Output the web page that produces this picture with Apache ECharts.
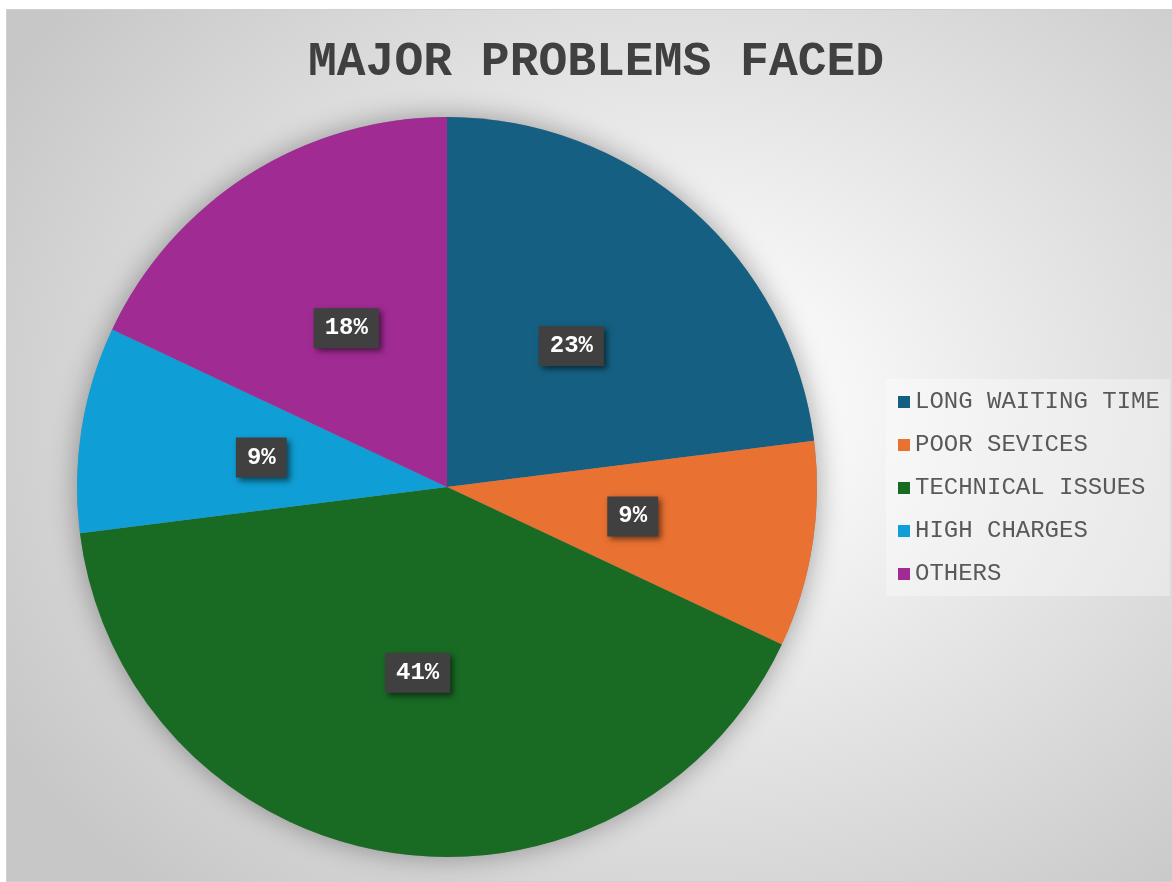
<!DOCTYPE html>
<html>
<head>
<meta charset="utf-8">
<title>Major Problems Faced</title>
<script src="https://cdn.jsdelivr.net/npm/echarts@6/dist/echarts.min.js"></script>
<style>
  html, body { margin: 0; padding: 0; background: #ffffff; }
  #chart {
    position: absolute; left: 6px; top: 9px; width: 1165px; height: 871px;
    border: 1px solid #d0d0d0;
    background: radial-gradient(ellipse 68% 74% at 58% 46%, #ffffff 0%, #f6f6f6 22%, #e2e2e2 55%, #c7c7c7 100%);
  }
</style>
</head>
<body>
<div id="chart"></div>
<script>
// Survey answers: share of respondents per problem (percent)
const categories = ['LONG WAITING TIME', 'POOR SEVICES', 'TECHNICAL ISSUES', 'HIGH CHARGES', 'OTHERS'];
const shares = [23, 9, 41, 9, 18];
const colors = ['#156082', '#E97132', '#196B24', '#0F9ED5', '#A02B93'];

const chart = echarts.init(document.getElementById('chart'), null, { renderer: 'canvas' });

const pieData = categories.map((name, i) => ({ name, value: shares[i], itemStyle: { color: colors[i] } }));
const total = shares.reduce((a, b) => a + b, 0);

chart.setOption({
  title: {
    text: 'MAJOR PROBLEMS FACED',
    left: 296,
    top: 24,
    textStyle: {
      fontFamily: 'Liberation Mono',
      fontWeight: 'bold',
      fontSize: 48,
      color: '#404040'
    }
  },
  legend: {
    orient: 'vertical',
    left: 879,
    top: 369,
    data: categories,
    icon: 'rect',
    itemWidth: 12,
    itemHeight: 12,
    itemGap: 19,
    padding: [11, 10, 10, 12],
    backgroundColor: 'rgba(255,255,255,0.35)',
    selectedMode: false,
    textStyle: {
      fontFamily: 'Liberation Mono',
      fontSize: 24,
      lineHeight: 24,
      color: '#595959'
    }
  },
  series: [
    {
      // soft shadow disc under the pie
      type: 'pie',
      silent: true,
      radius: 370,
      center: [440, 477],
      z: 1,
      label: { show: false },
      labelLine: { show: false },
      legendHoverLink: false,
      data: [{ value: total, name: '_shadow', itemStyle: { color: '#8a8a8a', shadowBlur: 28, shadowColor: 'rgba(0,0,0,0.35)' } }],
      animation: false
    },
    {
      type: 'pie',
      radius: 370,
      center: [440, 477],
      startAngle: 90,
      clockwise: true,
      z: 2,
      animation: false,
      itemStyle: { borderWidth: 0 },
      label: {
        show: true,
        position: 'inside',
        formatter: '{c}%',
        fontFamily: 'Liberation Mono',
        fontWeight: 'bold',
        fontSize: 24,
        lineHeight: 24,
        color: '#ffffff',
        backgroundColor: '#404040',
        padding: [8, 11, 8, 11],
        shadowColor: 'rgba(0,0,0,0.55)',
        shadowBlur: 6,
        shadowOffsetX: 3,
        shadowOffsetY: 3
      },
      labelLine: { show: false },
      data: pieData
    }
  ]
});
</script>
</body>
</html>
